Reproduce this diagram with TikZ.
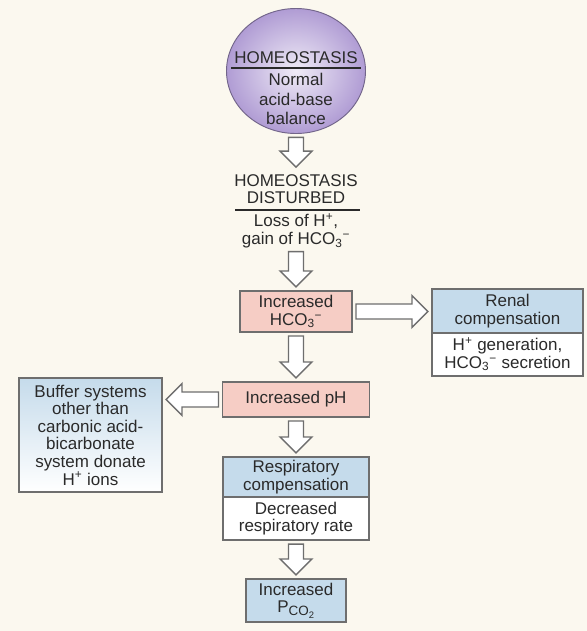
\documentclass[tikz,border=0pt]{standalone}
\usepackage{fontspec}
\setmainfont{Liberation Sans}
\usetikzlibrary{calc,positioning,shapes.geometric}

\definecolor{cream}{HTML}{FBF8EF}
\definecolor{lilac}{HTML}{B09CD4}
\definecolor{rose}{HTML}{F6CDC5}
\definecolor{sky}{HTML}{C5DBEB}
\definecolor{ink}{HTML}{2A2A2A}
\definecolor{edge}{HTML}{6E6E6E}

\newcommand{\bicarb}{HCO\textsubscript{3}\textsuperscript{−}}
\newcommand{\pcotwo}{P\raisebox{-0.35ex}{\fontsize{11.5}{12}\selectfont CO\textsubscript{2}}}

\tikzset{
  box/.style={draw=edge,line width=1.2pt,align=center,inner sep=1pt},
  pinkbox/.style={box,fill=rose},
  bluebox/.style={box,fill=sky},
  fatarrow/.style={draw=edge,fill=white,line width=1.2pt},
  rule/.style={ink,line width=1pt}
}

% hollow block arrow between two points
\newcommand{\fatarrow}[2]{%
  \path ($(#1)!0.1cm!(#2)$) coordinate (fa-a)
        ($(#2)!0.1cm!(#1)$) coordinate (fa-b);
  \path ($(fa-b)!0.48cm!(fa-a)$) coordinate (fa-m);
  \draw[fatarrow] ($(fa-a)!0.225cm!90:(fa-b)$)
    -- ($(fa-m)!0.225cm!90:(fa-b)$) -- ($(fa-m)!0.48cm!90:(fa-b)$)
    -- (fa-b)
    -- ($(fa-m)!0.48cm!-90:(fa-b)$) -- ($(fa-m)!0.225cm!-90:(fa-b)$)
    -- ($(fa-a)!0.225cm!-90:(fa-b)$) -- cycle;
}

\begin{document}
\begin{tikzpicture}[x=0.03cm,y=-0.03cm,font=\fontsize{14.5}{15}\selectfont,text=ink]
\fill[cream] (0,0) rectangle (587,631);

% homeostasis ball
\node[ellipse,draw=lilac!65!black,line width=0.8pt,inner color=lilac!20!white,
  outer color=lilac,minimum width=4.17cm,minimum height=3.75cm] (home) at (296,71) {};
\node (hometop) at (296,58) {HOMEOSTASIS};
\draw[rule] (231,68) -- (361,68);
\node[align=center] (homebot) at (296,99) {Normal\\[2pt]acid-base\\[2pt]balance};

% disturbance
\node[align=center,inner sep=3pt] (distt) at (296,189) {HOMEOSTASIS\\DISTURBED};
\draw[rule] (235,210) -- (360,210);
\node[align=center,inner sep=0pt] (distb) at (296,231) {Loss of H\textsuperscript{+},\\gain of \bicarb};

% boxes
\node[pinkbox,minimum width=3.36cm,minimum height=1.23cm] (hco3) at (296,311.5) {Increased\\\bicarb};
\node[bluebox,minimum width=4.53cm,minimum height=1.32cm] (renalt) at (507.5,311) {Renal\\compensation};
\node[box,fill=white,minimum width=4.53cm,minimum height=1.29cm,below=-1.2pt of renalt] (renalb)
  {H\textsuperscript{+} generation,\\\bicarb{} secretion};
\node[pinkbox,minimum width=4.41cm,minimum height=1.05cm] (ph) at (296,399.5) {Increased pH};
\node[box,shading=axis,top color=sky,bottom color=white,minimum width=4.29cm,minimum height=3.42cm]
  (buffer) at (90.5,435) {Buffer systems\\other than\\carbonic acid-\\bicarbonate\\system donate\\H\textsuperscript{+} ions};
\node[bluebox,minimum width=4.38cm,minimum height=1.2cm] (respt) at (296,477) {Respiratory\\compensation};
\node[box,fill=white,minimum width=4.38cm,minimum height=1.29cm,below=-1.2pt of respt] (respb)
  {Decreased\\respiratory rate};
\node[bluebox,minimum width=3cm,minimum height=1.29cm] (pco2) at (296,600.5) {Increased\\\pcotwo};

% arrows
\coordinate (renalin) at (renalt.west |- hco3.east);
\coordinate (bufin) at (buffer.east |- ph.west);
\fatarrow{home.south}{distt.north}
\fatarrow{distb.south}{hco3.north}
\fatarrow{hco3.east}{renalin}
\fatarrow{hco3.south}{ph.north}
\fatarrow{ph.west}{bufin}
\fatarrow{ph.south}{respt.north}
\fatarrow{respb.south}{pco2.north}
\end{tikzpicture}
\end{document}
